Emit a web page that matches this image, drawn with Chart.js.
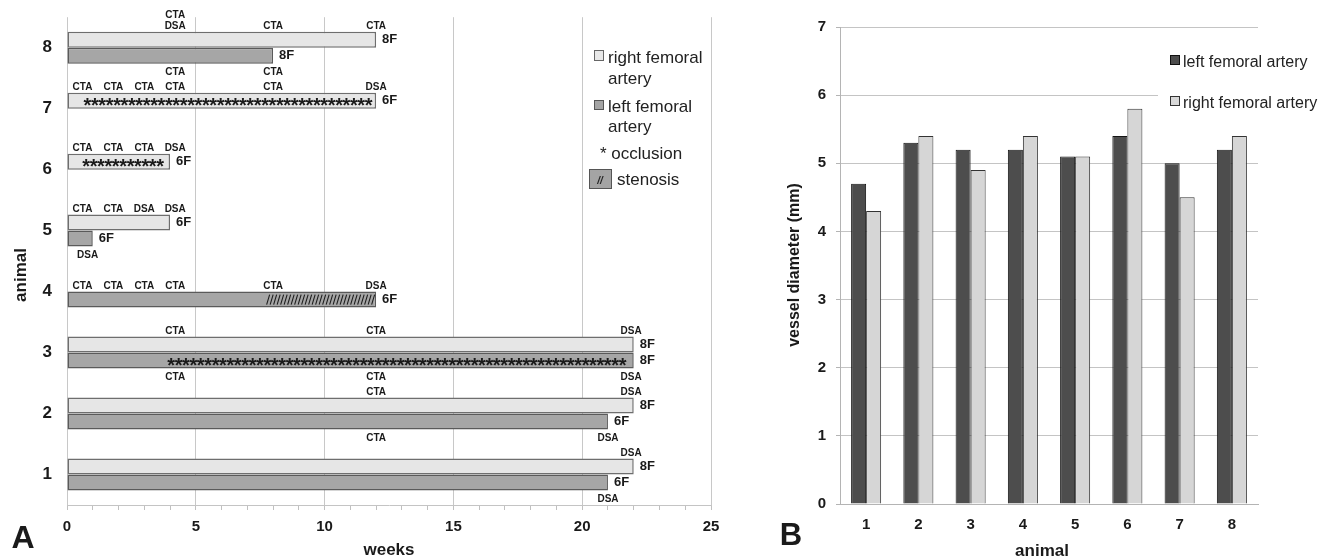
<!DOCTYPE html>
<html>
<head>
<meta charset="utf-8">
<title>Femoral artery follow-up and vessel diameter</title>
<script src="https://cdn.jsdelivr.net/npm/chart.js@4.4.1/dist/chart.umd.min.js"></script>
<style>
  html, body { margin: 0; padding: 0; background: #fff; }
  #wrap { position: relative; width: 1339px; height: 559px; overflow: hidden; }
  #chartA { position: absolute; left: 0; top: 0; }
  #chartB { position: absolute; left: 740px; top: 0; }
</style>
</head>
<body>
<div id="wrap">
  <canvas id="chartA" width="740" height="559"></canvas>
  <canvas id="chartB" width="599" height="559"></canvas>
</div>
<script>
// Panel A: follow-up time in weeks, per animal (top to bottom) and artery
const animalsA = ['8', '7', '6', '5', '4', '3', '2', '1'];
const rightWeeks = [12, 12, 4, 4, null, 22, 22, 22];
const leftWeeks = [8, null, null, 1, 12, 22, 21, 21];
const rightSheath = ['8F', '6F', '6F', '6F', '', '8F', '8F', '8F'];
const leftSheath = ['8F', '', '', '6F', '6F', '8F', '6F', '6F'];

// imaging exams: [animal, artery, week, label]
const examsAbove = [
    ['8', 'right', 4.2, 'CTA\nDSA'], ['8', 'right', 8, 'CTA'], ['8', 'right', 12, 'CTA'],
    ['7', 'right', 0.6, 'CTA'], ['7', 'right', 1.8, 'CTA'], ['7', 'right', 3, 'CTA'],
    ['7', 'right', 4.2, 'CTA'], ['7', 'right', 8, 'CTA'], ['7', 'right', 12, 'DSA'],
    ['6', 'right', 0.6, 'CTA'], ['6', 'right', 1.8, 'CTA'], ['6', 'right', 3, 'CTA'], ['6', 'right', 4.2, 'DSA'],
    ['5', 'right', 0.6, 'CTA'], ['5', 'right', 1.8, 'CTA'], ['5', 'right', 3, 'DSA'], ['5', 'right', 4.2, 'DSA'],
    ['4', 'left', 0.6, 'CTA'], ['4', 'left', 1.8, 'CTA'], ['4', 'left', 3, 'CTA'],
    ['4', 'left', 4.2, 'CTA'], ['4', 'left', 8, 'CTA'], ['4', 'left', 12, 'DSA'],
    ['3', 'right', 4.2, 'CTA'], ['3', 'right', 12, 'CTA'], ['3', 'right', 21.9, 'DSA'],
    ['2', 'right', 12, 'CTA'], ['2', 'right', 21.9, 'DSA'],
    ['1', 'right', 21.9, 'DSA']
];
const examsBelow = [
    ['8', 'left', 4.2, 'CTA'], ['8', 'left', 8, 'CTA'],
    ['5', 'left', 0.8, 'DSA'],
    ['3', 'left', 4.2, 'CTA'], ['3', 'left', 12, 'CTA'], ['3', 'left', 21.9, 'DSA'],
    ['2', 'left', 12, 'CTA'], ['2', 'left', 21, 'DSA'],
    ['1', 'left', 21, 'DSA']
];

// occlusion (asterisks) and stenosis (hatching): [animal, artery, fromWeek, toWeek]
const occlusions = [['7', 'right', 0.65, 12], ['6', 'right', 0.6, 4], ['3', 'left', 3.9, 21.9]];
const stenoses = [['4', 'left', 7.75, 12]];

// Panel B: vessel diameter in mm
const animalsB = ['1', '2', '3', '4', '5', '6', '7', '8'];
const leftDiameter = [4.7, 5.3, 5.2, 5.2, 5.1, 5.4, 5.0, 5.2];
const rightDiameter = [4.3, 5.4, 4.9, 5.4, 5.1, 5.8, 4.5, 5.4];

const FONT = '"Liberation Sans", Arial, sans-serif';
const INK = '#1a1a1a';

Chart.defaults.font.family = FONT;
Chart.defaults.color = INK;

function barOf(chart, animal, artery) {
    const ds = artery === 'right' ? 0 : 1;
    return chart.getDatasetMeta(ds).data[animalsA.indexOf(animal)];
}

// Texts, marks and legend of panel A
const panelAExtras = {
    id: 'panelAExtras',
    afterDraw(chart) {
        const ctx = chart.ctx;
        const xs = chart.scales.x;
        ctx.save();
        ctx.fillStyle = INK;

        // exam labels
        ctx.font = 'bold 10px ' + FONT;
        ctx.textAlign = 'center';
        ctx.textBaseline = 'alphabetic';
        examsAbove.forEach(([animal, artery, week, label]) => {
            const bar = barOf(chart, animal, artery);
            const x = xs.getPixelForValue(week);
            const top = bar.y - bar.height / 2;
            label.split('\n').reverse().forEach((t, i) => {
                ctx.fillText(t, x, top - 2.5 - i * 11.5);
            });
        });
        examsBelow.forEach(([animal, artery, week, label]) => {
            const bar = barOf(chart, animal, artery);
            const x = xs.getPixelForValue(week);
            ctx.fillText(label, x, bar.y + bar.height / 2 + 11);
        });

        // sheath sizes at bar ends
        ctx.font = 'bold 13px ' + FONT;
        ctx.textAlign = 'left';
        animalsA.forEach((animal, i) => {
            [['right', rightSheath[i]], ['left', leftSheath[i]]].forEach(([artery, size]) => {
                if (!size) return;
                const bar = barOf(chart, animal, artery);
                ctx.fillText(size, bar.x + 6, bar.y + 3.5);
            });
        });

        // occlusion asterisks
        ctx.font = 'bold 20px ' + FONT;
        ctx.textAlign = 'center';
        occlusions.forEach(([animal, artery, from, to]) => {
            const bar = barOf(chart, animal, artery);
            const x1 = xs.getPixelForValue(from);
            const x2 = xs.getPixelForValue(to);
            const n = Math.floor((x2 - x1) / 7.4);
            for (let k = 0; k < n; k++) {
                ctx.fillText('*', x1 + 3.7 + k * 7.4, bar.y + 11);
            }
        });

        // stenosis hatching
        ctx.strokeStyle = '#1e1e1e';
        ctx.lineWidth = 1.1;
        stenoses.forEach(([animal, artery, from, to]) => {
            const bar = barOf(chart, animal, artery);
            const x1 = xs.getPixelForValue(from);
            const x2 = xs.getPixelForValue(to);
            ctx.beginPath();
            for (let x = x1; x < x2 - 3; x += 3.5) {
                ctx.moveTo(x, bar.y + 5);
                ctx.lineTo(x + 3, bar.y - 5);
            }
            ctx.stroke();
        });

        // axis titles and panel letter
        ctx.font = 'bold 17px ' + FONT;
        ctx.textAlign = 'center';
        ctx.fillText('weeks', 389, 555);
        ctx.save();
        ctx.translate(26, 275);
        ctx.rotate(-Math.PI / 2);
        ctx.font = 'bold 17px ' + FONT;
        ctx.fillText('animal', 0, 0);
        ctx.restore();
        ctx.font = 'bold 32px ' + FONT;
        ctx.fillText('A', 23, 548);

        // legend
        ctx.lineWidth = 1;
        ctx.fillStyle = '#e8e8e8';
        ctx.strokeStyle = '#666';
        ctx.fillRect(594.5, 50.5, 9, 10);
        ctx.strokeRect(594.5, 50.5, 9, 10);
        ctx.fillStyle = '#a4a4a4';
        ctx.strokeStyle = '#555';
        ctx.fillRect(594.5, 100.5, 9, 9);
        ctx.strokeRect(594.5, 100.5, 9, 9);
        ctx.fillRect(589.5, 169.5, 22, 19);
        ctx.strokeRect(589.5, 169.5, 22, 19);
        ctx.fillStyle = '#222';
        ctx.font = '17px ' + FONT;
        ctx.textAlign = 'left';
        ctx.fillText('right femoral', 608, 63);
        ctx.fillText('artery', 608, 84);
        ctx.fillText('left femoral', 608, 112);
        ctx.fillText('artery', 608, 132);
        ctx.fillText('* occlusion', 600, 159);
        ctx.fillText('stenosis', 617, 185);
        ctx.font = 'italic bold 10px ' + FONT;
        ctx.textAlign = 'center';
        ctx.fillText('//', 600, 184);
        ctx.restore();
    }
};

// Texts and legend of panel B
const panelBExtras = {
    id: 'panelBExtras',
    afterDraw(chart) {
        const ctx = chart.ctx;
        ctx.save();
        ctx.fillStyle = INK;
        ctx.textAlign = 'center';
        ctx.textBaseline = 'alphabetic';
        ctx.font = 'bold 17px ' + FONT;
        ctx.fillText('animal', 302, 556);
        ctx.save();
        ctx.translate(59, 265);
        ctx.rotate(-Math.PI / 2);
        ctx.font = 'bold 16px ' + FONT;
        ctx.fillText('vessel diameter (mm)', 0, 0);
        ctx.restore();
        ctx.font = 'bold 31px ' + FONT;
        ctx.fillText('B', 51, 545);

        // legend on white box
        ctx.fillStyle = '#fff';
        ctx.fillRect(418, 38, 178, 82);
        ctx.lineWidth = 1;
        ctx.fillStyle = '#4d4d4d';
        ctx.strokeStyle = '#111';
        ctx.fillRect(430.5, 55.5, 9, 9);
        ctx.strokeRect(430.5, 55.5, 9, 9);
        ctx.fillStyle = '#d8d8d8';
        ctx.strokeStyle = '#333';
        ctx.fillRect(430.5, 96.5, 9, 9);
        ctx.strokeRect(430.5, 96.5, 9, 9);
        ctx.fillStyle = '#222';
        ctx.font = '16px ' + FONT;
        ctx.textAlign = 'left';
        ctx.fillText('left femoral artery', 443, 67);
        ctx.fillText('right femoral artery', 443, 108);
        ctx.restore();
    }
};

document.addEventListener('DOMContentLoaded', function() {
    // Panel A: horizontal timeline bars
    new Chart(document.getElementById('chartA'), {
        type: 'bar',
        data: {
            labels: animalsA,
            datasets: [{
                label: 'right femoral artery',
                data: rightWeeks,
                backgroundColor: '#e6e6e6',
                borderColor: '#6e6e6e',
                borderWidth: 1.5,
                borderSkipped: false
            }, {
                label: 'left femoral artery',
                data: leftWeeks,
                backgroundColor: '#a6a6a6',
                borderColor: '#5a5a5a',
                borderWidth: 1.5,
                borderSkipped: false
            }]
        },
        options: {
            indexAxis: 'y',
            responsive: false,
            animation: false,
            events: [],
            categoryPercentage: 0.525,
            barPercentage: 1.0,
            layout: { padding: { left: 0, right: 29, top: 9, bottom: 0 } },
            plugins: { legend: { display: false }, tooltip: { enabled: false } },
            scales: {
                x: {
                    type: 'linear',
                    position: 'bottom',
                    min: 0,
                    max: 25,
                    afterFit: scale => { scale.height = 54; },
                    ticks: {
                        stepSize: 1,
                        autoSkip: false,
                        maxRotation: 0,
                        padding: 8,
                        font: { size: 15, weight: 'bold' },
                        callback: v => (v % 5 === 0 ? v : '')
                    },
                    grid: {
                        color: c => (c.tick && c.tick.value % 5 === 0 ? '#c8c8c8' : 'rgba(0,0,0,0)'),
                        tickColor: '#c0c0c0',
                        tickLength: 5,
                        lineWidth: 1
                    },
                    border: { display: true, color: '#c4c4c4' }
                },
                y: {
                    afterFit: scale => { scale.width = 67; },
                    ticks: { padding: 7, font: { size: 17, weight: 'bold' } },
                    grid: { display: false },
                    border: { display: false }
                }
            }
        },
        plugins: [panelAExtras]
    });

    // Panel B: vessel diameters
    new Chart(document.getElementById('chartB'), {
        type: 'bar',
        data: {
            labels: animalsB,
            datasets: [{
                label: 'left femoral artery',
                data: leftDiameter,
                backgroundColor: '#4d4d4d',
                borderColor: '#151515',
                borderWidth: 1
            }, {
                label: 'right femoral artery',
                data: rightDiameter,
                backgroundColor: '#d6d6d6',
                borderColor: '#333',
                borderWidth: 1
            }]
        },
        options: {
            responsive: false,
            animation: false,
            events: [],
            categoryPercentage: 0.575,
            barPercentage: 1.0,
            layout: { padding: { left: 0, right: 81, top: 27, bottom: 0 } },
            plugins: { legend: { display: false }, tooltip: { enabled: false } },
            scales: {
                x: {
                    afterFit: scale => { scale.height = 55; },
                    ticks: { padding: 4, font: { size: 15, weight: 'bold' } },
                    grid: { display: false },
                    border: { display: true, color: '#b4b4b4' }
                },
                y: {
                    min: 0,
                    max: 7,
                    afterFit: scale => { scale.width = 100; },
                    ticks: { stepSize: 1, padding: 10, font: { size: 15, weight: 'bold' } },
                    grid: { color: '#c4c4c4', tickColor: '#b4b4b4', tickLength: 4 },
                    border: { display: true, color: '#b4b4b4' }
                }
            }
        },
        plugins: [panelBExtras]
    });
});
</script>
</body>
</html>
